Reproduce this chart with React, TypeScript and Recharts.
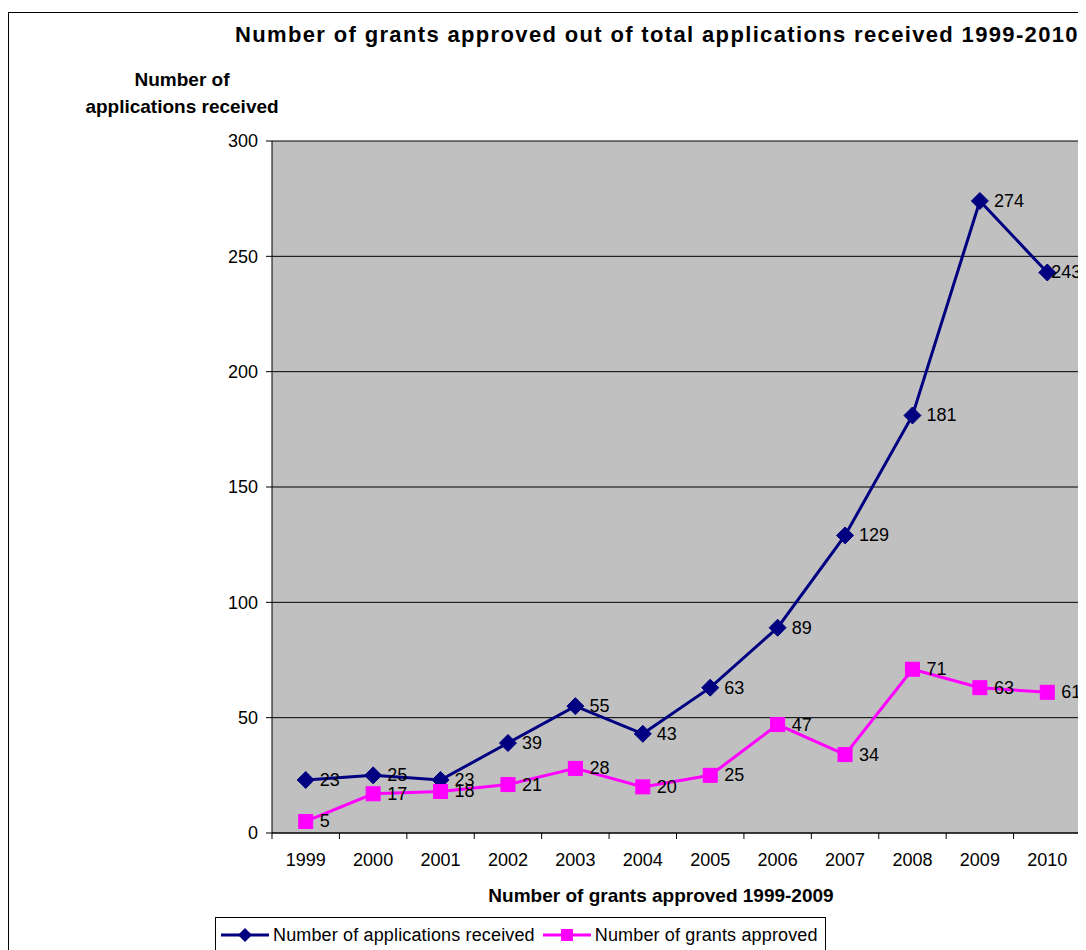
import React from "react";
import { LineChart, Line, XAxis, YAxis, CartesianGrid, LabelList } from "recharts";

const years = ["1999","2000","2001","2002","2003","2004","2005","2006","2007","2008","2009","2010"];
const applications = [23, 25, 23, 39, 55, 43, 63, 89, 129, 181, 274, 243];
const grants = [5, 17, 18, 21, 28, 20, 25, 47, 34, 71, 63, 61];
const yTicks = [0, 50, 100, 150, 200, 250, 300];

const data = years.map((y, i) => ({ year: y, applications: applications[i], grants: grants[i] }));

const FONT = "'Liberation Sans', Arial, sans-serif";
const NAVY = "#000080";
const MAGENTA = "#FF00FF";

const W = 1078;
const H = 942;
const MARGIN = { top: 133, right: 5, bottom: 87, left: 0 };
const YAXIS_W = 264;
const PLOT_W = W - YAXIS_W - MARGIN.right - MARGIN.left;
const STEP = PLOT_W / years.length;

const Diamond = (props: any) => {
  const { cx, cy } = props;
  if (cx == null || cy == null) return null;
  const r = 8.5;
  return <path d={`M${cx},${cy - r}L${cx + r},${cy}L${cx},${cy + r}L${cx - r},${cy}Z`} fill={NAVY} stroke={NAVY} />;
};

const Square = (props: any) => {
  const { cx, cy } = props;
  if (cx == null || cy == null) return null;
  const r = 7;
  return <rect x={cx - r} y={cy - r} width={2 * r} height={2 * r} fill={MAGENTA} stroke={MAGENTA} />;
};

const makeLabel = (lastOffset: number) => (props: any) => {
  const { x, y, value, index } = props;
  const off = index === years.length - 1 ? lastOffset : 14;
  return (
    <text x={x + off} y={y} dominantBaseline="central" fontSize={18} fontFamily={FONT} fill="#000">{value}</text>
  );
};
const AppLabel = makeLabel(4);
const GrantLabel = makeLabel(14);

const XTick = (props: any) => {
  const { x, y, payload, index } = props;
  const left = x - STEP / 2;
  return (
    <g>
      <line x1={left} y1={y} x2={left} y2={y + 6} stroke="#000" />
      {index === years.length - 1 && <line x1={x + STEP / 2} y1={y} x2={x + STEP / 2} y2={y + 6} stroke="#000" />}
      <text x={x} y={y + 33} textAnchor="middle" fontSize={18} fontFamily={FONT} fill="#000">{payload.value}</text>
    </g>
  );
};

const LegendMarkDiamond = () => (
  <svg width={48} height={18} style={{ display: "block" }}>
    <line x1={0} y1={9} x2={48} y2={9} stroke={NAVY} strokeWidth={3} />
    <path d="M24,2L31,9L24,16L17,9Z" fill={NAVY} />
  </svg>
);
const LegendMarkSquare = () => (
  <svg width={48} height={18} style={{ display: "block" }}>
    <line x1={0} y1={9} x2={48} y2={9} stroke={MAGENTA} strokeWidth={3} />
    <rect x={18} y={3} width={12} height={12} fill={MAGENTA} />
  </svg>
);

export default function App() {
  return (
    <div style={{ position: "relative", width: W, height: H, overflow: "hidden", fontFamily: FONT, background: "#fff" }}>
      <div style={{ position: "absolute", left: 0, top: 4, width: 1075, height: 1000, border: "1px solid #000", boxSizing: "border-box" }} />
      <div style={{ position: "absolute", left: 0, top: 0 }}>
        <LineChart width={W} height={H} data={data} margin={MARGIN}>
          <CartesianGrid vertical={false} stroke="#000" fill="#C0C0C0" fillOpacity={1} />
          <XAxis
            dataKey="year"
            tick={<XTick />}
            tickLine={false}
            tickSize={0}
            tickMargin={0}
            height={30}
            axisLine={{ stroke: "#000" }}
            interval={0}
            padding={{ left: STEP / 2, right: STEP / 2 }}
          />
          <YAxis
            width={YAXIS_W}
            domain={[0, 300]}
            ticks={yTicks}
            interval={0}
            tickSize={6}
            tickMargin={8}
            axisLine={{ stroke: "#000" }}
            tickLine={{ stroke: "#000" }}
            tick={{ fill: "#000", fontSize: 18, fontFamily: FONT }}
          />
          <Line
            dataKey="applications"
            stroke={NAVY}
            strokeWidth={3}
            dot={<Diamond />}
            activeDot={false}
            isAnimationActive={false}
          >
            <LabelList dataKey="applications" content={AppLabel} />
          </Line>
          <Line
            dataKey="grants"
            stroke={MAGENTA}
            strokeWidth={3}
            dot={<Square />}
            activeDot={false}
            isAnimationActive={false}
          >
            <LabelList dataKey="grants" content={GrantLabel} />
          </Line>
        </LineChart>
      </div>
      <div style={{ position: "absolute", left: 649, top: 27, transform: "translate(-50%, -50%)", whiteSpace: "nowrap", fontWeight: "bold", fontSize: 22, letterSpacing: 1.35, color: "#000" }}>
        Number of grants approved out of total applications received 1999-2010
      </div>
      <div style={{ position: "absolute", left: 174, top: 85, transform: "translate(-50%, -50%)", whiteSpace: "nowrap", fontWeight: "bold", fontSize: 19, lineHeight: "27px", textAlign: "center", color: "#000" }}>
        Number of<br />applications received
      </div>
      <div style={{ position: "absolute", left: 653, top: 888, transform: "translate(-50%, -50%)", whiteSpace: "nowrap", fontWeight: "bold", fontSize: 19, color: "#000" }}>
        Number of grants approved 1999-2009
      </div>
      <div style={{ position: "absolute", left: 207, top: 909, width: 611, height: 40, border: "1px solid #000", boxSizing: "border-box", background: "#fff", display: "flex", alignItems: "flex-start", paddingTop: 8, paddingLeft: 5, fontSize: 18, letterSpacing: 0.15, color: "#000" }}>
        <LegendMarkDiamond />
        <span style={{ marginLeft: 4, marginRight: 8, lineHeight: "18px" }}>Number of applications received</span>
        <LegendMarkSquare />
        <span style={{ marginLeft: 4, lineHeight: "18px" }}>Number of grants approved</span>
      </div>
    </div>
  );
}
